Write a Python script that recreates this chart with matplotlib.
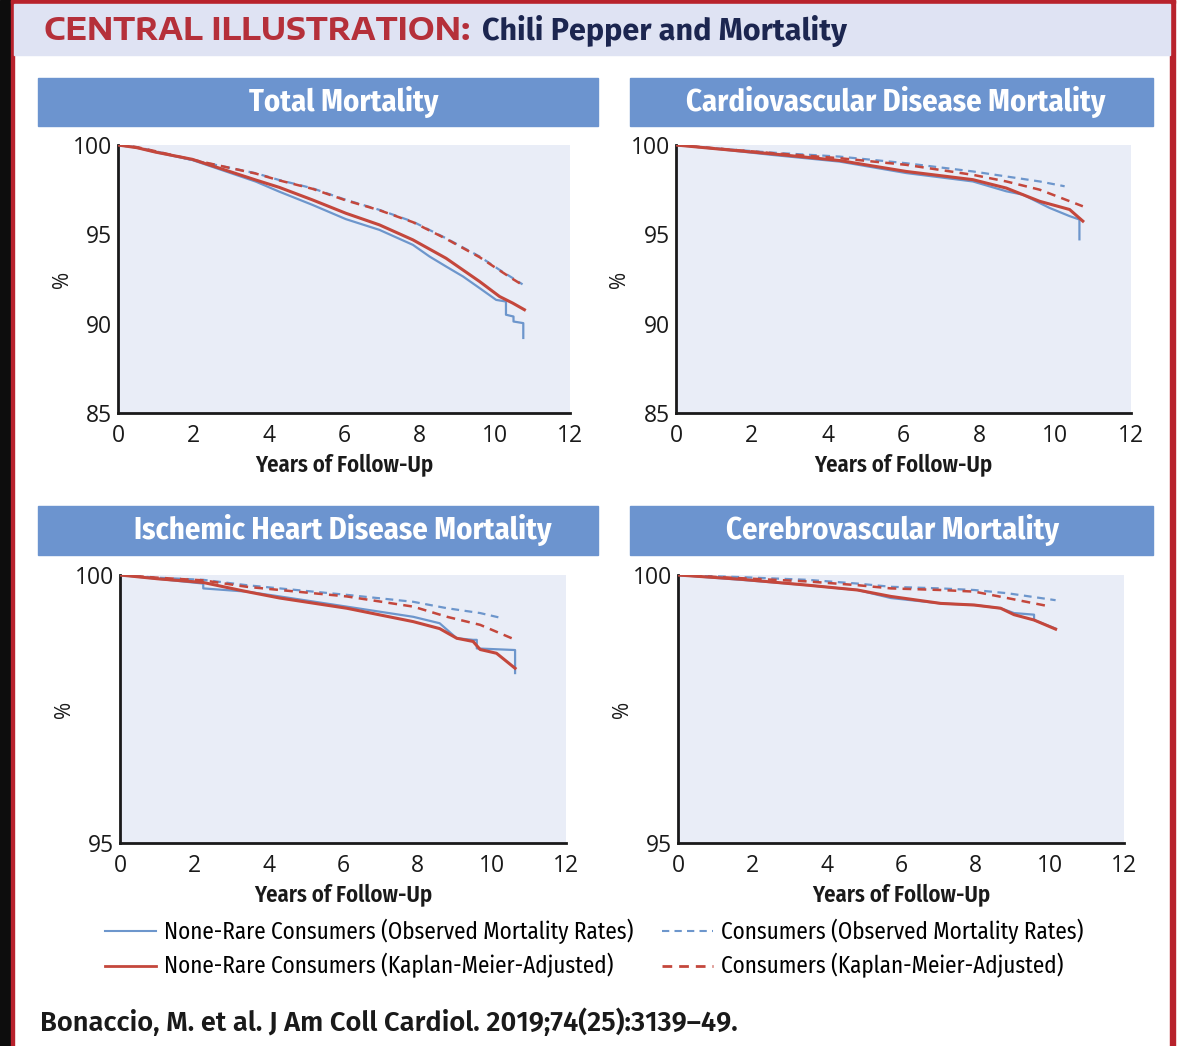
import matplotlib
matplotlib.use("Agg")
import matplotlib.pyplot as plt
from matplotlib.patches import Rectangle
from matplotlib.lines import Line2D

W, H = 1179, 1046
COND = ['Fira Sans Condensed', 'Liberation Sans Narrow', 'DejaVu Sans']
FIRA = ['Fira Sans', 'DejaVu Sans']
WIDE = ['Encode Sans Expanded', 'DejaVu Sans']
SANS = ['Open Sans', 'DejaVu Sans']

BLUE = '#6d96cc'
RED = '#c4473c'
AX_BG = '#e9edf7'
BAND = '#6c94cf'
INK = '#1a1a1a'

titles = ['Total Mortality', 'Cardiovascular Disease Mortality',
          'Ischemic Heart Disease Mortality', 'Cerebrovascular Mortality']

# total mortality
tm_nr_obs_x = [0, 0.5, 1, 1.97, 3.66, 4.28, 5.16, 6.05, 6.94, 7.83, 8.27, 8.71, 9.16, 9.6, 10.04, 10.3, 10.3, 10.5, 10.5, 10.76, 10.76]
tm_nr_obs_y = [100, 99.85, 99.6, 99.16, 97.95, 97.39, 96.65, 95.85, 95.25, 94.41, 93.76, 93.2, 92.64, 91.99, 91.33, 91.24, 90.5, 90.4, 90.12, 90.03, 89.2]
tm_nr_km_x = [0, 0.5, 1, 1.97, 3.66, 4.28, 5.16, 6.05, 6.94, 7.83, 8.71, 9.6, 10.13, 10.48, 10.79]
tm_nr_km_y = [100, 99.85, 99.6, 99.2, 98.04, 97.63, 96.93, 96.18, 95.53, 94.69, 93.66, 92.36, 91.52, 91.15, 90.78]
tm_c_obs_x = [0, 0.5, 1, 1.97, 3.66, 4.28, 5.16, 6.05, 6.94, 7.83, 8.71, 9.6, 10.13, 10.48, 10.74]
tm_c_obs_y = [100, 99.88, 99.65, 99.16, 98.42, 98.04, 97.58, 96.93, 96.37, 95.71, 94.78, 93.76, 93.01, 92.55, 92.2]
tm_c_km_x = [0, 0.5, 1, 1.97, 3.66, 4.28, 5.16, 6.05, 6.94, 7.83, 8.71, 9.6, 10.13, 10.48, 10.79]
tm_c_km_y = [100, 99.88, 99.65, 99.18, 98.4, 98.02, 97.55, 96.9, 96.35, 95.68, 94.75, 93.72, 92.98, 92.5, 92.1]

# cardiovascular disease mortality
cvd_nr_obs_x = [0, 1, 2.56, 4.32, 6.07, 7.83, 8.71, 9.15, 9.85, 10.38, 10.64, 10.64]
cvd_nr_obs_y = [100, 99.8, 99.44, 99.07, 98.43, 97.96, 97.41, 97.22, 96.48, 96.02, 95.83, 94.72]
cvd_nr_km_x = [0, 1, 2.56, 4.32, 6.07, 7.83, 8.71, 9.59, 10.38, 10.73]
cvd_nr_km_y = [100, 99.8, 99.5, 99.13, 98.52, 98.06, 97.59, 96.85, 96.39, 95.74]
cvd_c_obs_x = [0, 1, 2.56, 4.32, 6.07, 7.83, 8.71, 9.59, 10.25]
cvd_c_obs_y = [100, 99.82, 99.57, 99.35, 98.98, 98.52, 98.24, 97.96, 97.69]
cvd_c_km_x = [0, 1, 2.56, 4.32, 6.07, 7.83, 8.71, 9.59, 10.73]
cvd_c_km_y = [100, 99.82, 99.54, 99.26, 98.89, 98.33, 97.96, 97.5, 96.57]

# ischemic heart disease mortality
ihd_nr_obs_x = [0, 1, 2.24, 2.24, 3.41, 4.3, 6.1, 7.89, 8.6, 9.06, 9.5, 9.6, 9.6, 10.63, 10.63]
ihd_nr_obs_y = [100, 99.93, 99.84, 99.75, 99.69, 99.6, 99.41, 99.22, 99.1, 98.82, 98.79, 98.79, 98.63, 98.6, 98.17]
ihd_nr_km_x = [0, 1, 2.24, 3.41, 4.3, 6.1, 7.89, 8.6, 9.06, 9.5, 9.69, 10.13, 10.63]
ihd_nr_km_y = [100, 99.93, 99.86, 99.69, 99.57, 99.38, 99.13, 99.0, 98.82, 98.76, 98.61, 98.54, 98.26]
ihd_c_obs_x = [0, 1, 2.24, 3.41, 4.3, 6.1, 7.89, 8.8, 9.69, 10.31]
ihd_c_obs_y = [100, 99.95, 99.91, 99.81, 99.75, 99.63, 99.5, 99.38, 99.29, 99.19]
ihd_c_km_x = [0, 1, 2.24, 3.41, 4.3, 6.1, 7.89, 8.8, 9.69, 10.54]
ihd_c_km_y = [100, 99.95, 99.9, 99.78, 99.72, 99.6, 99.41, 99.22, 99.07, 98.82]

# cerebrovascular mortality
cer_nr_obs_x = [0, 1.7, 3.49, 4.83, 5.73, 7.07, 7.97, 8.68, 9.04, 9.58, 9.58, 10.16]
cer_nr_obs_y = [100, 99.91, 99.81, 99.72, 99.57, 99.47, 99.44, 99.38, 99.29, 99.26, 99.16, 99.0]
cer_nr_km_x = [0, 1.7, 3.49, 4.83, 5.73, 7.07, 7.97, 8.68, 9.04, 9.58, 10.16]
cer_nr_km_y = [100, 99.92, 99.81, 99.72, 99.6, 99.47, 99.44, 99.38, 99.26, 99.16, 98.99]
cer_c_obs_x = [0, 1.7, 3.49, 4.83, 5.73, 7.07, 7.97, 8.86, 10.16]
cer_c_obs_y = [100, 99.96, 99.91, 99.84, 99.78, 99.75, 99.72, 99.66, 99.53]
cer_c_km_x = [0, 1.7, 3.49, 4.83, 5.73, 7.07, 7.97, 8.86, 10.03]
cer_c_km_y = [100, 99.94, 99.88, 99.81, 99.75, 99.72, 99.69, 99.57, 99.41]

x_ticks = [0, 2, 4, 6, 8, 10, 12]
y_ticks_top = [85, 90, 95, 100]
y_ticks_bottom = [95, 100]

legend_labels = ['None-Rare Consumers (Observed Mortality Rates)',
                 'None-Rare Consumers (Kaplan-Meier-Adjusted)',
                 'Consumers (Observed Mortality Rates)',
                 'Consumers (Kaplan-Meier-Adjusted)']


def box(x0, y0, x1, y1):
    # pixel box (top-left origin) -> figure fraction rect
    return [x0 / W, 1 - y1 / H, (x1 - x0) / W, (y1 - y0) / H]


def fit(t, width_px, lo, hi):
    # rescale a text so it spans roughly width_px, within sane limits
    r = fig.canvas.get_renderer()
    w = t.get_window_extent(r).width
    t.set_fontsize(min(hi, max(lo, t.get_fontsize() * width_px / w)))


fig = plt.figure(figsize=(W / 100, H / 100), dpi=100)
fig.patch.set_facecolor('white')

# frame pieces of the screenshot
fig.patches.append(Rectangle((0, 0), 11 / W, 1, transform=fig.transFigure, color='#0d0d0d', zorder=0))
fig.patches.append(Rectangle((11 / W, 0), 3 / W, 1, transform=fig.transFigure, color='#b8222c', zorder=0))
fig.patches.append(Rectangle((1170 / W, 0), 5 / W, 1, transform=fig.transFigure, color='#b8222c', zorder=0))
fig.patches.append(Rectangle((11 / W, 1 - 3 / H), 1164 / W, 3 / H, transform=fig.transFigure, color='#b8222c', zorder=0))
fig.patches.append(Rectangle((14 / W, 1 - 55 / H), 1156 / W, 51 / H, transform=fig.transFigure, color='#dfe3f3', zorder=0))

t_head = fig.text(44 / W, 1 - 31 / H, 'CENTRAL ILLUSTRATION:', color='#b5303a', fontsize=20,
                  fontweight='bold', family=WIDE, va='center')
fit(t_head, 425, 18, 22)
t_sub = fig.text(482 / W, 1 - 31 / H, 'Chili Pepper and Mortality', color='#1c2650', fontsize=20,
                 fontweight='bold', family=FIRA, va='center')
fit(t_sub, 366, 18, 22)

panels = [
    (box(118, 145, 570, 413), (38, 78, 598, 126), 344, y_ticks_top,
     [(tm_nr_obs_x, tm_nr_obs_y), (tm_nr_km_x, tm_nr_km_y), (tm_c_obs_x, tm_c_obs_y), (tm_c_km_x, tm_c_km_y)]),
    (box(676, 145, 1131, 413), (630, 78, 1153, 126), 896, y_ticks_top,
     [(cvd_nr_obs_x, cvd_nr_obs_y), (cvd_nr_km_x, cvd_nr_km_y), (cvd_c_obs_x, cvd_c_obs_y), (cvd_c_km_x, cvd_c_km_y)]),
    (box(120, 575, 566, 843), (38, 506, 598, 555), 343, y_ticks_bottom,
     [(ihd_nr_obs_x, ihd_nr_obs_y), (ihd_nr_km_x, ihd_nr_km_y), (ihd_c_obs_x, ihd_c_obs_y), (ihd_c_km_x, ihd_c_km_y)]),
    (box(678, 575, 1124, 843), (630, 506, 1153, 555), 892, y_ticks_bottom,
     [(cer_nr_obs_x, cer_nr_obs_y), (cer_nr_km_x, cer_nr_km_y), (cer_c_obs_x, cer_c_obs_y), (cer_c_km_x, cer_c_km_y)]),
]

styles = [dict(color=BLUE, lw=1.6, ls='-', zorder=3),
          dict(color=RED, lw=2.2, ls='-', zorder=4),
          dict(color=BLUE, lw=1.6, ls=(0, (3.5, 2.5)), zorder=2),
          dict(color=RED, lw=1.8, ls=(0, (3.5, 2.5)), zorder=2)]

for i, (rect, band, tcx, yt, series) in enumerate(panels):
    bx0, by0, bx1, by1 = band
    fig.patches.append(Rectangle((bx0 / W, 1 - by1 / H), (bx1 - bx0) / W, (by1 - by0) / H,
                                 transform=fig.transFigure, color=BAND, zorder=0))
    fig.text(tcx / W, 1 - (by0 + by1) / 2 / H, titles[i], color='white', fontsize=22,
             fontweight='bold', family=COND, ha='center', va='center')

    ax = fig.add_axes(rect)
    ax.set_facecolor(AX_BG)
    for (xs, ys), st in zip(series, styles):
        ax.plot(xs, ys, **st)
    ax.set_xlim(0, 12)
    ax.set_ylim(yt[0], yt[-1])
    ax.set_xticks(x_ticks)
    ax.set_yticks(yt)
    ax.tick_params(length=0, labelsize=16.5, colors=INK)
    ax.tick_params(axis='x', pad=8)
    ax.tick_params(axis='y', pad=4)
    for lab in ax.get_xticklabels() + ax.get_yticklabels():
        lab.set_family(SANS)
    for s in ['top', 'right']:
        ax.spines[s].set_visible(False)
    for s in ['left', 'bottom']:
        ax.spines[s].set_linewidth(2)
        ax.spines[s].set_color(INK)
    ax.set_xlabel('Years of Follow-Up', fontsize=16.4, fontweight='semibold', family=COND,
                  color=INK, labelpad=4)
    ax.set_ylabel('%', fontsize=15, family=SANS, color=INK)
    ax.yaxis.set_label_coords(-0.10, 0.5)

handles = [Line2D([], [], color=st['color'], lw=1.5 if i % 2 == 0 else 2.0, ls=st['ls'])
           for i, st in enumerate(styles)]
leg_kw = dict(frameon=False, loc='center left', prop={'family': COND, 'size': 16.6},
              handlelength=2.2, handletextpad=0.35, labelspacing=0.4, borderpad=0,
              borderaxespad=0)
fig.legend(handles[:2], legend_labels[:2], bbox_to_anchor=(105 / W, 1 - 948.5 / H), **leg_kw)
fig.legend(handles[2:], legend_labels[2:], bbox_to_anchor=(662 / W, 1 - 948.5 / H), **leg_kw)

t_cite = fig.text(40 / W, 1 - 1022 / H, 'Bonaccio, M. et al. J Am Coll Cardiol. 2019;74(25):3139\u201349.',
                  fontsize=17.5, fontweight='semibold', family=FIRA, color=INK, va='center')
fit(t_cite, 700, 16, 20)

fig.savefig('out.png', dpi=100, facecolor=fig.get_facecolor())
